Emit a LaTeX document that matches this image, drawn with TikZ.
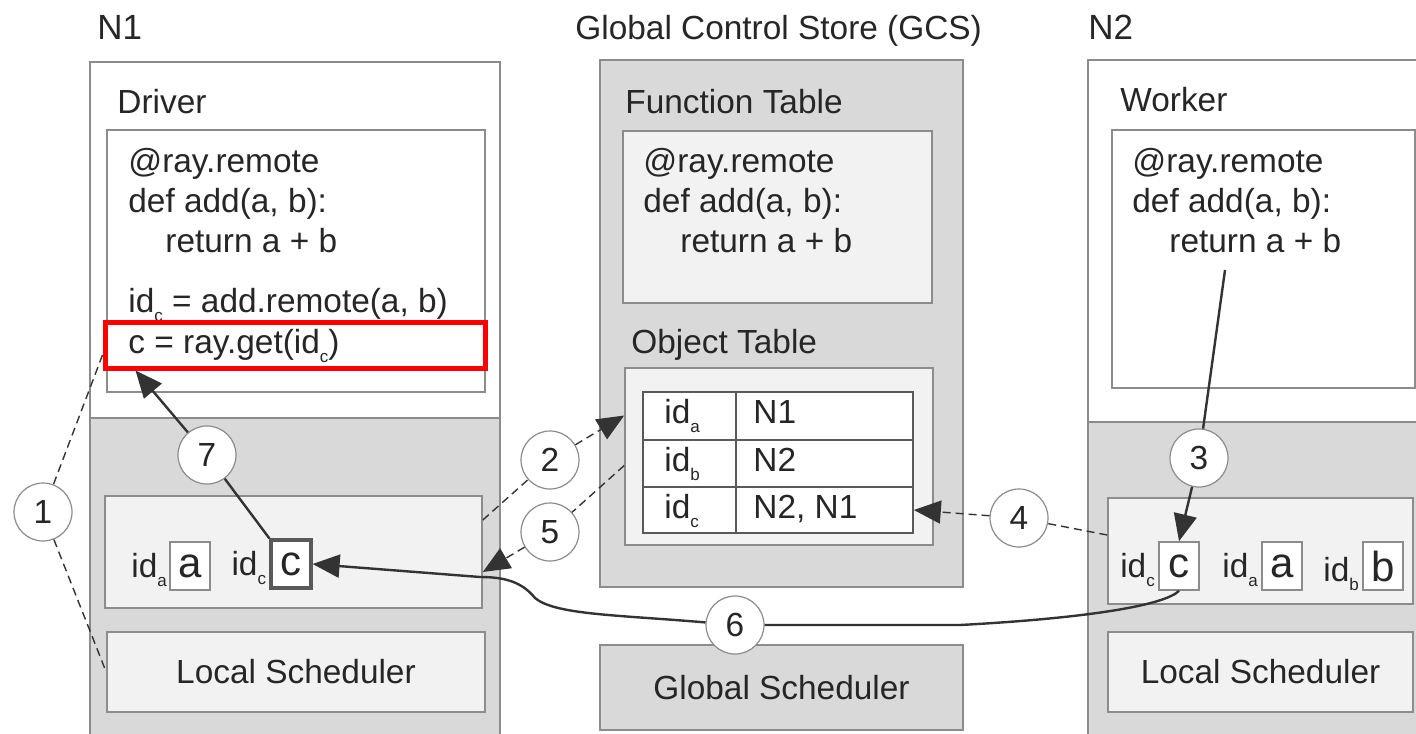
\documentclass[tikz,border=0pt]{standalone}
\usepackage{fontspec}
\setmainfont{Liberation Sans}
\usetikzlibrary{arrows.meta,positioning,fit}

\definecolor{boxline}{HTML}{8C8C8C}
\definecolor{panelgray}{HTML}{D9D9D9}
\definecolor{paperfill}{HTML}{F2F2F2}
\definecolor{inkgray}{HTML}{262626}
\definecolor{cellline}{HTML}{595959}
\definecolor{arrowink}{HTML}{333333}

\newcommand\figfont{\fontsize{16.7}{20}\selectfont}
\newcommand\headfont{\fontsize{17.5}{20}\selectfont}
\newcommand\valfont{\fontsize{21}{21}\selectfont}
\newcommand\idsub[1]{\raisebox{-4.5pt}{\fontsize{8.5}{8.5}\selectfont #1}}
% the remote function, same in all three places
\newcommand\addfn{@ray.remote\\def add(a, b):\\\hspace*{18.5pt}return a + b}

\begin{document}
\begin{tikzpicture}[x=0.5pt,y=-0.5pt,font=\figfont,text=inkgray,
  panel/.style={draw=boxline,line width=0.8pt,inner sep=0pt},
  graypanel/.style={panel,fill=panelgray},
  lightbox/.style={panel,fill=paperfill},
  whitebox/.style={panel,fill=white},
  cell/.style={draw=cellline,line width=0.8pt,fill=white,inner sep=0pt},
  valbox/.style={draw=boxline,line width=0.8pt,fill=white,minimum width=20pt,minimum height=24pt,inner sep=0pt,font=\valfont},
  idtext/.style={anchor=base east,inner sep=0pt},
  title/.style={anchor=base west,inner sep=0pt},
  codetext/.style={anchor=north west,align=left,inner sep=0pt},
  linetext/.style={anchor=base west,inner sep=0pt},
  num/.style={circle,draw=boxline,line width=0.6pt,fill=white,minimum size=29pt,inner sep=0pt},
  flow/.style={draw=arrowink,line width=1.2pt,-{Triangle[length=13.5pt,width=11.5pt]}},
  link/.style={draw=arrowink,line width=0.7pt,dash pattern=on 4pt off 2.5pt},
  msg/.style={link,-{Triangle[length=13.5pt,width=11.5pt]}}]

  \useasboundingbox (0,0) rectangle (1416,733);

  % node N1 with the driver
  \node[title,font=\headfont] (n1title) at (97,40) {N1};
  \node[panel,fill=white,fit={(90,62)(500,760)}] (n1) {};
  \node[graypanel,fit={(90,418)(500,760)}] (n1sys) {};
  \node[title] (drv) at (117,113) {Driver};
  \node[whitebox,fit={(107,130)(485,392)}] (drvcode) {};
  \node[codetext] (fnL) at (128,148) {\addfn};
  \node[linetext] (callL) at (128,312) {id\idsub{c} = add.remote(a, b)};
  \node[draw=red,line width=2.5pt,inner sep=0pt,fit={(105,322)(485,368)}] (getc) {};
  \node[linetext] (getL) at (128,353) {c = ray.get(id\idsub{c})};
  \node[lightbox,fit={(105,496)(482,608)}] (ostL) {};
  \node[valbox] (aL) at (190,566) {a};
  \node[idtext,left=1pt of aL.base west,anchor=base east] (idaL) {id\idsub{a}};
  \node[valbox,draw=cellline,line width=1.6pt] (cL) at (291,564) {c};
  \node[idtext,left=1.5pt of cL.base west,anchor=base east] (idcL) {id\idsub{c}};
  \node[lightbox,fit={(107,632)(485,712)}] (lsL) {};
  \node (lsLtext) at (lsL.center) {Local Scheduler};

  % global control store
  \node[title] (gcstitle) at (575,40) {Global Control Store (GCS)};
  \node[graypanel,fit={(600,60)(963,587)}] (gcs) {};
  \node[title] (fntitle) at (625,113) {Function Table};
  \node[lightbox,fit={(623,131)(932,303)}] (fntab) {};
  \node[codetext] (fnG) at (643,148) {\addfn};
  \node[title] (objtitle) at (631,353) {Object Table};
  \node[lightbox,fit={(625,368)(933,545)}] (objtab) {};
  \foreach \i/\t/\b/\loc in {a/392/440/N1, b/440/487/N2, c/487/533/{N2, N1}}{
    \node[cell,fit={(643,\t)(736,\b)}] (k\i) {};
    \node[cell,fit={(736,\t)(913,\b)}] (v\i) {};
    \node[linetext] at (664,{\t+31}) {id\idsub{\i}};
    \node[linetext] at (753,{\t+31}) {\loc};
  }
  \node[graypanel,fit={(600,645)(963,730)}] (gsched) {};
  \node (gschedtext) at (gsched.center) {Global Scheduler};

  % node N2 with the worker
  \node[title,font=\headfont] (n2title) at (1088,40) {N2};
  \node[panel,fill=white,fit={(1088,60)(1440,760)}] (n2) {};
  \node[graypanel,fit={(1088,422)(1440,760)}] (n2sys) {};
  \node[title] (wkr) at (1120,112) {Worker};
  \node[whitebox,fit={(1112,130)(1415,388)}] (wkcode) {};
  \node[codetext] (fnR) at (1132,148) {\addfn};
  \coordinate (retR) at (1225,270);
  \node[lightbox,fit={(1108,498)(1413,604)}] (ostR) {};
  \node[valbox] (cR) at (1179,566) {c};
  \node[idtext,left=1.5pt of cR.base west,anchor=base east] (idcR) {id\idsub{c}};
  \node[valbox] (aR) at (1282,566) {a};
  \node[idtext,left=1.5pt of aR.base west,anchor=base east] (idaR) {id\idsub{a}};
  \node[valbox] (bR) at (1383,566) {b};
  \node[idtext,left=1.5pt of bR.base west,anchor=base east] (idbR) {id\idsub{b}};
  \node[lightbox,fit={(1108,632)(1413,712)}] (lsR) {};
  \node (lsRtext) at (lsR.center) {Local Scheduler};

  % step numbers
  \node[num] (s1) at (43,512) {1};
  \node[num] (s2) at (550,460) {2};
  \node[num] (s3) at (1199,458) {3};
  \node[num] (s4) at (1019,518) {4};
  \node[num] (s5) at (550,532) {5};
  \node[num] (s6) at (735,625) {6};
  \node[num] (s7) at (207,455) {7};

  % steps
  \draw[link] ([yshift=-5pt]getc.west) -- (s1) -- (lsL.west);
  \draw[msg] ([yshift=16pt]ostL.east) -- (s2) -- ([yshift=20.5pt]objtab.west);
  \draw[flow] (retR) -- (s3) -- (cR.north);
  \draw[msg] ([yshift=8pt]ostR.west) -- (s4) -- (vc.east);
  \draw[msg] ([yshift=-4.5pt]objtab.west) -- (s5) -- ([yshift=-10pt]ostL.east);
  \draw[flow] (cR.south) .. controls (1165,605) and (1090,618) .. (960,625) -- (s6)
    .. controls (620,615) and (555,615) .. (535,598)
    .. controls (522,582) and (505,577) .. (480,577) -- (cL.east);
  \draw[flow] (cL.north west) -- (s7) -- ([xshift=16.5pt]getc.south west);
\end{tikzpicture}
\end{document}
